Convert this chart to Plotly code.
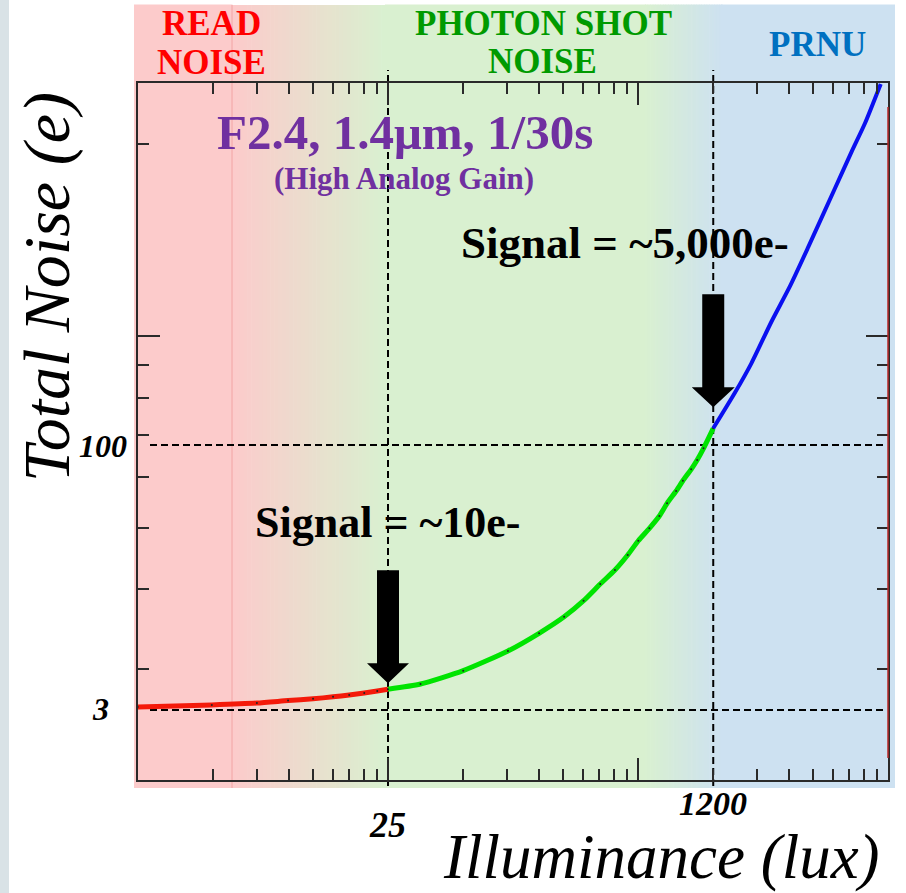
import plotly.graph_objects as go

# ---------------- data ----------------
red_lux = [1.27, 3.07, 5.25, 7.61, 10.25, 13.0, 15.75, 18.84, 22.0, 25]
red_noise = [3.12, 3.21, 3.29, 3.40, 3.48, 3.57, 3.66, 3.76, 3.86, 3.95]

green_lux = [25, 36.8, 61.2, 104.2, 150.9, 203.4, 256.4, 312.6, 372.4, 433.6,
             491.8, 561, 632, 692.8, 771.6, 835.8, 923, 991, 1069, 1200]
green_noise = [3.95, 4.23, 5.05, 6.55, 8.28, 10.3, 12.74, 15.89, 19.12, 23.33,
               28.18, 33.2, 39.1, 46.2, 54.4, 62.3, 72.5, 82.0, 95.7, 124.7]

blue_lux = [1200, 1547, 1889, 2398, 2983, 3716, 5105, 6232, 7304, 8809]
blue_noise = [124.7, 198.2, 294.8, 511.0, 812.3, 1370, 2980, 4850, 7061, 11876]

marker_lux = [25, 1200]          # vertical reference lines
marker_noise = [3, 100]          # horizontal reference lines
x_tick_text = ["25", "1200"]
y_tick_text = ["3", "100"]

# frame (original plotting-software) tick structure
frame_x_minor = [2, 3, 4, 5, 6, 7, 8, 9, 20, 30, 40, 50, 60, 70, 80, 90,
                 200, 300, 400, 500, 600, 700, 800, 900]
frame_x_major = [10, 100]
frame_y_minor = [3, 4, 5, 6, 7, 8, 9, 20]
frame_y_major = [10]

# ---------------- layout geometry ----------------
W, H = 906, 893
L, R, T, B = 138, 888, 83, 780
PW, PH = R - L, B - T


def px(x):
    return (x - L) / PW


def py(y):
    return (B - y) / PH


SERIF = "Liberation Serif"

fig = go.Figure()

fig.add_trace(go.Scatter(x=red_lux, y=red_noise, mode="lines+markers",
                         line=dict(color="#f41a0a", width=5, shape="spline", smoothing=0.6),
                         marker=dict(size=2, color="#222"),
                         hoverinfo="skip", showlegend=False))
fig.add_trace(go.Scatter(x=green_lux, y=green_noise, mode="lines+markers",
                         line=dict(color="#00e400", width=5, shape="spline", smoothing=0.6),
                         marker=dict(size=2, color="#222"),
                         hoverinfo="skip", showlegend=False))
fig.add_trace(go.Scatter(x=blue_lux, y=blue_noise, mode="lines",
                         line=dict(color="#0a10f0", width=4, shape="spline", smoothing=0.6),
                         hoverinfo="skip", showlegend=False))
# dummy traces so that the frame axes are drawn
fig.add_trace(go.Scatter(x=[10], y=[10], xaxis="x2", yaxis="y2", mode="markers",
                         marker=dict(opacity=0), hoverinfo="skip", showlegend=False))
fig.add_trace(go.Scatter(x=[10], y=[10], xaxis="x3", yaxis="y3", mode="markers",
                         marker=dict(opacity=0), hoverinfo="skip", showlegend=False))

# ---------------- backgrounds ----------------
shapes = []


def rect(x0, x1, y0, y1, color):
    shapes.append(dict(type="rect", xref="paper", yref="paper",
                       x0=px(x0), x1=px(x1), y0=py(y1), y1=py(y0),
                       fillcolor=color, line=dict(width=0), layer="below"))


def hexrgb(h):
    h = h.lstrip("#")
    return tuple(int(h[i:i + 2], 16) for i in (0, 2, 4))


def gradient(x0, x1, y0, y1, c0, c1, n=40):
    a, b = hexrgb(c0), hexrgb(c1)
    step = (x1 - x0) / n
    for i in range(n):
        t = (i + 0.5) / n
        c = tuple(round(a[k] + (b[k] - a[k]) * t) for k in range(3))
        rect(x0 + i * step, x0 + (i + 1) * step + 0.6, y0, y1, "rgb(%d,%d,%d)" % c)


PINK, GREEN, BLUE = "#fccbcb", "#d9f0d0", "#cde1f1"
rect(0, 9, 0, H, "#d9e2e6")
rect(134, 232.5, 4.5, 788, PINK)
gradient(232, 385, 5, 788, PINK, GREEN, 40)
rect(385, 646, 4.5, 788, GREEN)
gradient(645, 722, 4.5, 788, GREEN, BLUE, 30)
rect(721, 895, 4.5, 788, BLUE)
shapes.append(dict(type="line", xref="paper", yref="paper", x0=px(232), x1=px(232),
                   y0=py(788), y1=py(5), line=dict(color="#f2a4a4", width=1), layer="below"))

# dashed reference lines
for v in marker_lux:
    shapes.append(dict(type="line", xref="x", yref="paper", x0=v, x1=v,
                       y0=py(786), y1=py(70),
                       line=dict(color="black", width=2, dash="7px,4px"), layer="below"))
for v in marker_noise:
    shapes.append(dict(type="line", xref="paper", yref="y", x0=px(150), x1=px(883),
                       y0=v, y1=v,
                       line=dict(color="black", width=2, dash="7px,4px"), layer="below"))

# red line over right frame
shapes.append(dict(type="line", xref="paper", yref="paper", x0=1, x1=1,
                   y0=py(758), y1=py(107), line=dict(color="#b82828", width=1.5)))

# big arrows (pixel-sized, anchored on the curve points)
arrow1 = "M 0,6 L -21,26 L -11,26 L -11,119 L 11,119 L 11,26 L 21,26 Z"
arrow2 = "M 0,21 L -21.5,41 L -11,41 L -11,134 L 11,134 L 11,41 L 21.5,41 Z"
for path, ax_, ay_ in [(arrow1, green_lux[0], green_noise[0]),
                       (arrow2, blue_lux[0], blue_noise[0])]:
    shapes.append(dict(type="path", xref="x", yref="y", xsizemode="pixel",
                       ysizemode="pixel", xanchor=ax_, yanchor=ay_, path=path,
                       fillcolor="black", line=dict(color="black", width=0)))

# ---------------- text ----------------
ann = []


def text(s, x, y, size, color="black", xanchor="center", angle=0):
    ann.append(dict(text=s, xref="paper", yref="paper", x=px(x), y=py(y),
                    xanchor=xanchor, yanchor="middle", showarrow=False,
                    textangle=angle, font=dict(family=SERIF, size=size, color=color)))


text("<b>READ</b>", 211, 24, 35, "#ff0000")
text("<b>NOISE</b>", 211, 63, 35, "#ff0000")
text("<b>PHOTON SHOT</b>", 543.5, 24, 35, "#009a00")
text("<b>NOISE</b>", 542.5, 61, 35, "#009a00")
text("<b>PRNU</b>", 817, 44, 35, "#0070c0")
text("<b>F2.4, 1.4μm, 1/30s</b>", 404.5, 132, 49, "#7030a0")
text("<b>(High Analog Gain)</b>", 404, 179, 31, "#7030a0")
text("<b>Signal = ~5,000e-</b>", 625, 243, 45)
text("<b>Signal = ~10e-</b>", 387.5, 522.5, 44)

text("<b><i>%s</i></b>" % x_tick_text[0], 387, 825.5, 36)
text("<b><i>%s</i></b>" % x_tick_text[1], 713, 803.5, 34)
text("<b><i>%s</i></b>" % y_tick_text[1], 129, 445.8, 32, xanchor="right")
text("<b><i>%s</i></b>" % y_tick_text[0], 111, 708.7, 32, xanchor="right")

text("<i>Total Noise (e)</i>", 47, 287, 66, angle=-90)
text("<i>Illuminance (lux)</i>", 661, 857.5, 63)

# ---------------- axes ----------------
hidden = dict(showgrid=False, zeroline=False, showticklabels=False, ticks="",
              showline=False)
frame_common = dict(showgrid=False, zeroline=False, showticklabels=False,
                    ticks="inside", tickcolor="#2a2a2a", tickwidth=1.5,
                    showline=True, linecolor="#2a2a2a", linewidth=2, mirror="ticks",
                    type="log")

fig.update_layout(
    width=W, height=H, autosize=False,
    margin=dict(l=L, r=W - R, t=T, b=H - B, pad=0),
    paper_bgcolor="white", plot_bgcolor="rgba(0,0,0,0)",
    showlegend=False,
    xaxis=dict(type="log", range=[0.10565, 3.98252], **hidden),
    yaxis=dict(type="log", range=[0.07485, 4.08034], **hidden),
    xaxis2=dict(overlaying="x", anchor="y2", range=[0, 3], tickvals=frame_x_minor,
                ticklen=11, **frame_common),
    yaxis2=dict(overlaying="y", anchor="x2", range=[0.303, 1.397], tickvals=frame_y_minor,
                ticklen=11, **frame_common),
    xaxis3=dict(overlaying="x", anchor="y3", range=[0, 3], tickvals=frame_x_major,
                ticklen=22, **frame_common),
    yaxis3=dict(overlaying="y", anchor="x3", range=[0.303, 1.397], tickvals=frame_y_major,
                ticklen=22, **frame_common),
    shapes=shapes,
    annotations=ann,
)

fig.write_html("out.html")
